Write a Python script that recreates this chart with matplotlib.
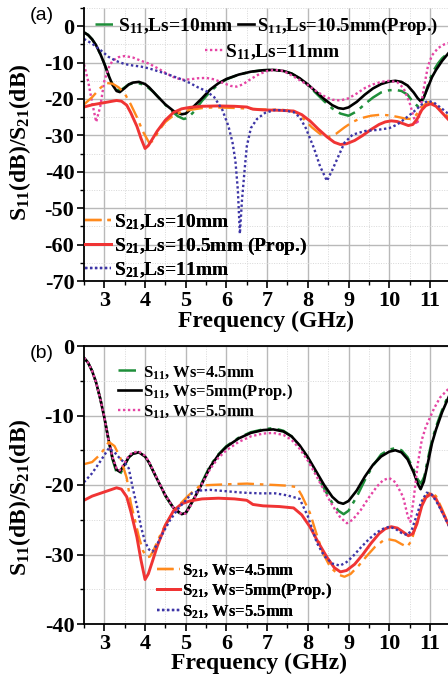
import matplotlib
matplotlib.use("Agg")
import matplotlib.pyplot as plt
from matplotlib.ticker import MultipleLocator

# --- measured curves (frequency in GHz, level in dB) ---

# proposed design: Ls = 10.5 mm, Ws = 5 mm (same curve in both panels)
f_s11_prop = [2.5, 2.6, 2.7, 2.8, 2.9, 3.0, 3.1, 3.2, 3.3, 3.38, 3.5, 3.6, 3.7, 3.85, 4.0,
              4.1, 4.3, 4.5, 4.7, 4.9, 5.0, 5.1, 5.2, 5.4, 5.6, 5.8, 6.0, 6.3, 6.6, 6.9,
              7.15, 7.4, 7.6, 7.8, 8.0, 8.2, 8.4, 8.6, 8.75, 8.87, 9.0, 9.2, 9.4, 9.6, 9.8,
              10.0, 10.15, 10.3, 10.45, 10.6, 10.7, 10.77, 10.85, 10.95, 11.05, 11.15, 11.3, 11.5]
s11_prop = [-1.7, -2.4, -3.6, -5.3, -7.6, -10.3, -13.4, -16.1, -17.8, -18.1, -17.0, -16.0, -15.5,
            -15.3, -15.9, -16.8, -19.2, -21.5, -23.3, -24.2, -24.0, -23.0, -22.0, -19.8, -17.4,
            -15.7, -14.5, -13.3, -12.5, -12.1, -12.0, -12.3, -13.0, -14.3, -16.0, -18.0, -20.0,
            -21.7, -22.5, -22.7, -22.3, -20.8, -18.8, -17.1, -15.9, -15.2, -15.0, -15.3, -16.3,
            -18.2, -19.8, -20.6, -19.5, -16.8, -14.0, -12.0, -9.5, -6.8]

f_s21_prop = [2.5, 2.7, 2.9, 3.1, 3.3, 3.42, 3.55, 3.65, 3.8, 3.9, 4.0, 4.08, 4.18, 4.3, 4.5,
              4.7, 4.9, 5.1, 5.4, 5.8, 6.2, 6.5, 6.65, 6.9, 7.3, 7.65, 7.85, 8.05, 8.25, 8.47,
              8.65, 8.8, 8.95, 9.15, 9.35, 9.55, 9.75, 9.9, 10.05, 10.2, 10.35, 10.47, 10.58,
              10.68, 10.8, 10.9, 11.02, 11.15, 11.3, 11.5]
s21_prop = [-22.2, -21.6, -21.2, -20.8, -20.4, -20.6, -21.7, -23.8, -27.5, -30.8, -33.6, -32.8,
            -31.0, -28.8, -25.8, -23.7, -22.7, -22.3, -22.0, -21.9, -22.0, -22.2, -22.8, -23.0,
            -23.1, -23.3, -24.3, -26.0, -28.2, -30.4, -31.9, -32.5, -32.3, -31.4, -30.0, -28.4,
            -27.0, -26.3, -26.0, -26.2, -26.8, -27.3, -27.0, -25.6, -23.0, -21.8, -21.3, -22.0,
            -23.8, -26.2]

# panel (a): Ls = 10 mm
f_s11_ls10 = [2.5, 2.6, 2.7, 2.8, 2.9, 3.0, 3.1, 3.2, 3.3, 3.4, 3.5, 3.6, 3.7, 3.85, 4.0, 4.2,
              4.4, 4.6, 4.8, 4.95, 5.05, 5.2, 5.4, 5.6, 5.8, 6.0, 6.3, 6.6, 6.9, 7.15, 7.4, 7.6,
              7.8, 8.0, 8.2, 8.4, 8.6, 8.8, 9.0, 9.2, 9.4, 9.6, 9.8, 10.0, 10.15, 10.3, 10.45,
              10.58, 10.7, 10.8, 10.9, 11.0, 11.1, 11.2, 11.3, 11.5]
s11_ls10 = [-1.7, -2.4, -3.6, -5.3, -7.6, -10.3, -13.3, -15.9, -17.5, -17.6, -16.8, -16.0, -15.7,
            -15.7, -16.2, -18.0, -20.4, -22.8, -24.7, -25.5, -25.2, -23.5, -20.5, -18.0, -16.0,
            -14.6, -13.3, -12.5, -12.1, -12.0, -12.3, -13.0, -14.4, -16.2, -18.4, -20.6, -22.6,
            -24.0, -24.6, -23.4, -21.4, -19.6, -18.2, -17.6, -17.5, -17.8, -18.8, -20.8, -22.0,
            -21.2, -18.0, -14.5, -12.0, -10.2, -8.8, -6.8]

f_s21_ls10 = [2.5, 2.7, 2.9, 3.05, 3.2, 3.35, 3.5, 3.65, 3.8, 3.95, 4.1, 4.2, 4.35, 4.5, 4.7,
              4.9, 5.1, 5.4, 5.7, 6.0, 6.3, 6.6, 7.0, 7.4, 7.7, 7.9, 8.1, 8.3, 8.5, 8.7, 8.9,
              9.1, 9.3, 9.55, 9.8, 10.0, 10.2, 10.4, 10.55, 10.65, 10.8, 10.95, 11.1, 11.3, 11.5]
s21_ls10 = [-21.5, -19.5, -17.0, -15.6, -15.8, -16.8, -18.5, -21.5, -25.0, -29.0, -32.0, -31.5,
            -28.5, -26.3, -24.5, -23.5, -23.0, -22.5, -22.3, -22.4, -22.5, -22.7, -22.9, -23.0,
            -23.6, -25.5, -27.8, -29.6, -30.5, -29.5, -27.8, -26.3, -25.3, -24.6, -24.3, -24.5,
            -24.9, -25.4, -25.5, -24.5, -22.2, -20.8, -21.3, -23.3, -25.5]

# panel (a): Ls = 11 mm
f_s11_ls11 = [2.5, 2.6, 2.7, 2.8, 2.9, 3.0, 3.1, 3.2, 3.35, 3.5, 3.7, 3.9, 4.1, 4.3, 4.5, 4.7,
              4.9, 5.1, 5.3, 5.5, 5.7, 5.9, 6.1, 6.25, 6.4, 6.6, 6.8, 7.0, 7.2, 7.4, 7.6, 7.8,
              8.0, 8.2, 8.4, 8.6, 8.8, 9.0, 9.2, 9.4, 9.6, 9.8, 10.0, 10.2, 10.35, 10.5, 10.6,
              10.68, 10.75, 10.85, 10.95, 11.05, 11.2, 11.35, 11.5]
s11_ls11 = [-10.5, -15.0, -21.0, -26.3, -22.0, -15.0, -11.5, -9.5, -8.5, -8.2, -8.6, -9.5, -10.3,
            -11.5, -12.8, -14.0, -14.7, -14.6, -14.3, -14.2, -14.6, -15.5, -16.4, -16.6, -16.0,
            -14.5, -13.2, -12.3, -12.0, -12.3, -13.5, -14.8, -16.2, -17.8, -19.2, -20.2, -20.4,
            -19.8, -18.5, -17.0, -16.0, -15.3, -15.0, -15.4, -17.0, -21.0, -25.0, -27.0, -24.0,
            -17.0, -11.0, -8.0, -6.0, -5.0, -4.5]

f_s21_ls11 = [2.5, 2.7, 2.9, 3.1, 3.3, 3.5, 3.7, 3.9, 4.1, 4.3, 4.5, 4.7, 4.9, 5.1, 5.3, 5.5,
              5.7, 5.9, 6.05, 6.15, 6.22, 6.28, 6.33, 6.38, 6.45, 6.5, 6.6, 6.75, 6.95, 7.2,
              7.45, 7.65, 7.8, 7.95, 8.15, 8.3, 8.47, 8.6, 8.74, 8.9, 9.1, 9.4, 9.7, 10.0, 10.2,
              10.4, 10.6, 10.8, 10.95, 11.1, 11.3, 11.5]
s21_ls11 = [-3.5, -4.8, -6.5, -8.4, -9.6, -10.4, -10.8, -11.1, -11.6, -12.3, -13.0, -13.8, -14.6,
            -15.6, -16.8, -17.8, -19.5, -23.0, -27.5, -32.0, -37.0, -45.0, -57.0, -48.0, -39.0,
            -33.0, -28.0, -25.5, -23.8, -23.0, -23.2, -23.6, -25.0, -28.0, -33.5, -38.5, -42.5,
            -39.5, -36.0, -32.0, -29.8, -28.8, -28.5, -28.0, -27.0, -25.3, -23.5, -21.5, -20.5,
            -21.0, -22.7, -24.5]

# panel (b): Ws = 4.5 mm
f_s11_ws45 = [2.5, 2.6, 2.7, 2.8, 2.9, 3.0, 3.1, 3.2, 3.3, 3.38, 3.5, 3.6, 3.7, 3.85, 4.0,
              4.1, 4.3, 4.5, 4.7, 4.9, 5.0, 5.1, 5.2, 5.4, 5.6, 5.8, 6.0, 6.3, 6.6, 6.9, 7.15,
              7.4, 7.6, 7.8, 8.0, 8.2, 8.4, 8.6, 8.75, 8.88, 9.0, 9.2, 9.4, 9.6, 9.8, 10.0,
              10.15, 10.3, 10.45, 10.6, 10.7, 10.78, 10.86, 10.95, 11.05, 11.15, 11.3, 11.5]
s11_ws45 = [-1.7, -2.4, -3.6, -5.3, -7.6, -10.3, -13.4, -16.3, -18.2, -18.5, -17.2, -16.0, -15.5,
            -15.3, -15.9, -16.8, -19.2, -21.6, -23.4, -24.3, -24.1, -23.1, -22.0, -19.6, -17.2,
            -15.6, -14.4, -13.2, -12.4, -12.0, -11.8, -12.2, -13.0, -14.4, -16.1, -18.3, -20.5,
            -22.6, -23.7, -24.2, -23.7, -21.7, -19.3, -17.2, -15.6, -14.9, -14.7, -15.0, -16.0,
            -17.8, -19.2, -19.8, -18.8, -16.2, -13.6, -11.6, -9.2, -6.4]

f_s21_ws45 = [2.5, 2.7, 2.9, 3.0, 3.11, 3.25, 3.4, 3.55, 3.65, 3.75, 3.85, 3.95, 4.05, 4.12, 4.2,
              4.35, 4.5, 4.7, 4.9, 5.05, 5.2, 5.35, 5.6, 6.0, 6.5, 6.82, 7.2, 7.5, 7.73, 7.85,
              8.05, 8.2, 8.37, 8.55, 8.75, 8.9, 9.05, 9.25, 9.45, 9.65, 9.85, 9.97, 10.15, 10.3,
              10.44, 10.55, 10.7, 10.85, 11.0, 11.15, 11.3, 11.5]
s21_ws45 = [-17.0, -16.7, -15.6, -14.8, -13.8, -14.4, -16.2, -19.0, -22.6, -25.0, -27.5, -29.5,
            -30.4, -30.3, -29.5, -27.5, -25.7, -23.8, -22.5, -21.6, -20.8, -20.1, -20.0, -19.9,
            -19.8, -19.9, -20.0, -20.1, -20.3, -21.5, -24.0, -26.8, -29.8, -31.8, -32.9, -33.2,
            -32.8, -31.6, -30.2, -28.9, -28.0, -27.8, -28.0, -28.5, -28.9, -28.0, -24.8, -22.0,
            -21.0, -21.6, -23.5, -26.3]

# panel (b): Ws = 5.5 mm
f_s11_ws55 = [2.5, 2.6, 2.7, 2.8, 2.9, 3.0, 3.1, 3.2, 3.3, 3.38, 3.5, 3.6, 3.7, 3.85, 4.0,
              4.1, 4.3, 4.5, 4.7, 4.9, 5.0, 5.1, 5.2, 5.4, 5.6, 5.8, 6.0, 6.3, 6.6, 6.9, 7.15,
              7.4, 7.6, 7.8, 8.0, 8.2, 8.4, 8.6, 8.8, 8.96, 9.1, 9.3, 9.5, 9.7, 9.85, 10.0,
              10.15, 10.34, 10.46, 10.52, 10.6, 10.7, 10.8, 10.9, 11.0, 11.1, 11.25, 11.5]
s11_ws55 = [-1.7, -2.4, -3.6, -5.3, -7.6, -10.3, -13.4, -16.0, -17.6, -17.9, -16.8, -15.8, -15.3,
            -15.2, -15.8, -16.7, -19.1, -21.5, -23.3, -24.2, -24.1, -23.2, -22.0, -19.8, -17.7,
            -16.1, -15.0, -13.8, -13.0, -12.6, -12.5, -12.8, -13.5, -14.8, -16.5, -18.6, -20.8,
            -22.9, -24.7, -25.5, -25.0, -23.6, -21.8, -20.2, -19.3, -19.0, -19.6, -21.7, -24.6,
            -25.3, -22.0, -17.0, -13.5, -11.6, -10.3, -9.0, -7.4, -5.9]

f_s21_ws55 = [2.5, 2.7, 2.9, 3.0, 3.11, 3.25, 3.4, 3.5, 3.6, 3.7, 3.8, 3.9, 4.0, 4.1, 4.18,
              4.3, 4.45, 4.6, 4.8, 5.0, 5.15, 5.35, 5.6, 6.0, 6.4, 6.82, 7.2, 7.5, 7.8, 8.0,
              8.22, 8.4, 8.6, 8.79, 8.95, 9.1, 9.3, 9.5, 9.7, 9.85, 10.0, 10.15, 10.3, 10.44,
              10.55, 10.65, 10.78, 10.92, 11.05, 11.2, 11.35, 11.5]
s21_ws55 = [-19.6, -18.3, -16.6, -15.7, -14.7, -15.3, -16.3, -16.8, -17.6, -20.5, -23.0, -26.0,
            -28.2, -29.3, -29.6, -28.5, -26.8, -25.2, -23.5, -22.2, -21.2, -20.8, -20.7, -20.9,
            -21.1, -21.2, -21.2, -21.5, -22.0, -24.5, -28.3, -30.2, -31.3, -31.6, -31.1, -30.3,
            -29.0, -27.8, -26.8, -26.3, -26.0, -26.3, -26.9, -27.2, -26.5, -24.8, -22.5, -21.1,
            -21.4, -22.8, -24.5, -26.3]

x_ticks = [3, 4, 5, 6, 7, 8, 9, 10, 11]
ya_ticks = [0, -10, -20, -30, -40, -50, -60, -70]
yb_ticks = [0, -10, -20, -30, -40]

# --- styles ---
GREEN = "#1f8f3a"
PINK = "#e544a4"
ORANGE = "#ff8a1c"
RED = "#f03434"
BLUE = "#3d35a6"
DASHDOT = (0, (7, 2.5, 1.5, 2.5))
DOTTED = (0, (1, 1.1))

plt.rcParams["mathtext.fontset"] = "custom"
plt.rcParams["mathtext.rm"] = "Liberation Serif:bold"
plt.rcParams["mathtext.bf"] = "Liberation Serif:bold"
plt.rcParams["mathtext.default"] = "rm"

SERIF = "Liberation Serif"


def style_axes(ax, ylim, yticks, ymajor):
    ax.set_xlim(2.5, 11.5)
    ax.set_ylim(*ylim)
    ax.set_xticks(x_ticks)
    ax.set_yticks(yticks)
    ax.xaxis.set_minor_locator(MultipleLocator(0.5))
    ax.yaxis.set_minor_locator(MultipleLocator(ymajor / 2))
    ax.grid(True, which="major", color="#b9b9b9", lw=1.0)
    ax.grid(True, which="minor", color="#d8d8d8", lw=0.7, ls=(0, (1, 1.5)))
    ax.set_axisbelow(True)
    ax.tick_params(which="major", direction="out", length=5, width=1.2, pad=2)
    ax.tick_params(which="minor", direction="out", length=3, width=1.0)
    ax.set_yticklabels([f"{t:d}" if t == 0 else f"-{abs(t):d}" for t in yticks])
    for lab in ax.get_xticklabels() + ax.get_yticklabels():
        lab.set_fontfamily(SERIF)
        lab.set_fontweight("bold")
        lab.set_fontsize(16)
    for sp in ("left", "bottom"):
        ax.spines[sp].set_linewidth(1.3)
    ax.set_xlabel("Frequency (GHz)", fontfamily=SERIF, fontweight="bold", fontsize=17)
    ax.set_ylabel(r"S$_{11}$(dB)/S$_{21}$(dB)", fontfamily=SERIF, fontweight="bold", fontsize=17)


def add_entry(ax, handles, x_px, y_px, size, hlen, spacing=0.15):
    # one legend block anchored at the left end of its first handle
    leg = ax.legend(handles=handles, loc="center left", frameon=False,
                    prop={"family": SERIF, "weight": "bold", "size": size},
                    bbox_to_anchor=(x_px / 448, 1 - y_px / 675),
                    bbox_transform=fig.transFigure, borderpad=0, borderaxespad=0,
                    handletextpad=0.15, handlelength=hlen, labelspacing=spacing)
    ax.add_artist(leg)
    return leg


fig = plt.figure(figsize=(4.48, 6.75), dpi=100)
ax_a = fig.add_axes([84 / 448, 394 / 675, 366.3 / 448, 273 / 675])
ax_b = fig.add_axes([84 / 448, 51 / 675, 366.3 / 448, 278 / 675])

# --- panel (a): slot length Ls ---
l_a1, = ax_a.plot(f_s11_ls10, s11_ls10, color=GREEN, lw=1.8, ls=DASHDOT, label=r"S$_{11}$,Ls=10mm")
l_a2, = ax_a.plot(f_s11_prop, s11_prop, color="black", lw=1.9, label=r"S$_{11}$,Ls=10.5mm(Prop.)")
l_a3, = ax_a.plot(f_s11_ls11, s11_ls11, color=PINK, lw=1.7, ls=DOTTED, label=r"S$_{11}$,Ls=11mm")
l_a4, = ax_a.plot(f_s21_ls10, s21_ls10, color=ORANGE, lw=1.7, ls=DASHDOT, label=r"S$_{21}$,Ls=10mm")
l_a5, = ax_a.plot(f_s21_prop, s21_prop, color=RED, lw=2.1, label=r"S$_{21}$,Ls=10.5mm (Prop.)")
l_a6, = ax_a.plot(f_s21_ls11, s21_ls11, color=BLUE, lw=1.7, ls=DOTTED, label=r"S$_{21}$,Ls=11mm")

style_axes(ax_a, (-70, 5), ya_ticks, 10)
ax_a.spines["top"].set_visible(False)
ax_a.xaxis.set_label_coords(0.497, -0.11)
ax_a.yaxis.set_label_coords(-0.14, 0.51)

add_entry(ax_a, [l_a1], 95, 26, 14, 1.05)
add_entry(ax_a, [l_a2], 238, 26, 13.5, 0.85)
add_entry(ax_a, [l_a3], 205, 52, 14, 0.9)
add_entry(ax_a, [l_a4, l_a5, l_a6], 85, 246, 14, 1.35, spacing=0.2)

# --- panel (b): slot width Ws ---
l_b1, = ax_b.plot(f_s11_ws45, s11_ws45, color=GREEN, lw=1.8, ls=DASHDOT, label=r"S$_{11}$, Ws=4.5mm")
l_b2, = ax_b.plot(f_s11_prop, s11_prop, color="black", lw=1.9, label=r"S$_{11}$, Ws=5mm(Prop.)")
l_b3, = ax_b.plot(f_s11_ws55, s11_ws55, color=PINK, lw=1.7, ls=DOTTED, label=r"S$_{11}$, Ws=5.5mm")
l_b4, = ax_b.plot(f_s21_ws45, s21_ws45, color=ORANGE, lw=1.7, ls=DASHDOT, label=r"S$_{21}$, Ws=4.5mm")
l_b5, = ax_b.plot(f_s21_prop, s21_prop, color=RED, lw=2.1, label=r"S$_{21}$, Ws=5mm(Prop.)")
l_b6, = ax_b.plot(f_s21_ws55, s21_ws55, color=BLUE, lw=1.7, ls=DOTTED, label=r"S$_{21}$, Ws=5.5mm")

style_axes(ax_b, (-40, 0), yb_ticks, 10)
ax_b.spines["top"].set_linewidth(1.3)
ax_b.xaxis.set_label_coords(0.478, -0.102)
ax_b.yaxis.set_label_coords(-0.14, 0.455)

add_entry(ax_b, [l_b1, l_b2, l_b3], 118, 392, 12, 1.35, spacing=0.08)
add_entry(ax_b, [l_b4, l_b5, l_b6], 157, 591, 12, 1.35, spacing=0.12)

fig.text(30 / 448, 1 - 15 / 675, "(a)", fontfamily="Liberation Sans", fontsize=14, va="center")
fig.text(30 / 448, 1 - 353 / 675, "(b)", fontfamily="Liberation Sans", fontsize=14, va="center")

fig.savefig("out.png", dpi=100)
